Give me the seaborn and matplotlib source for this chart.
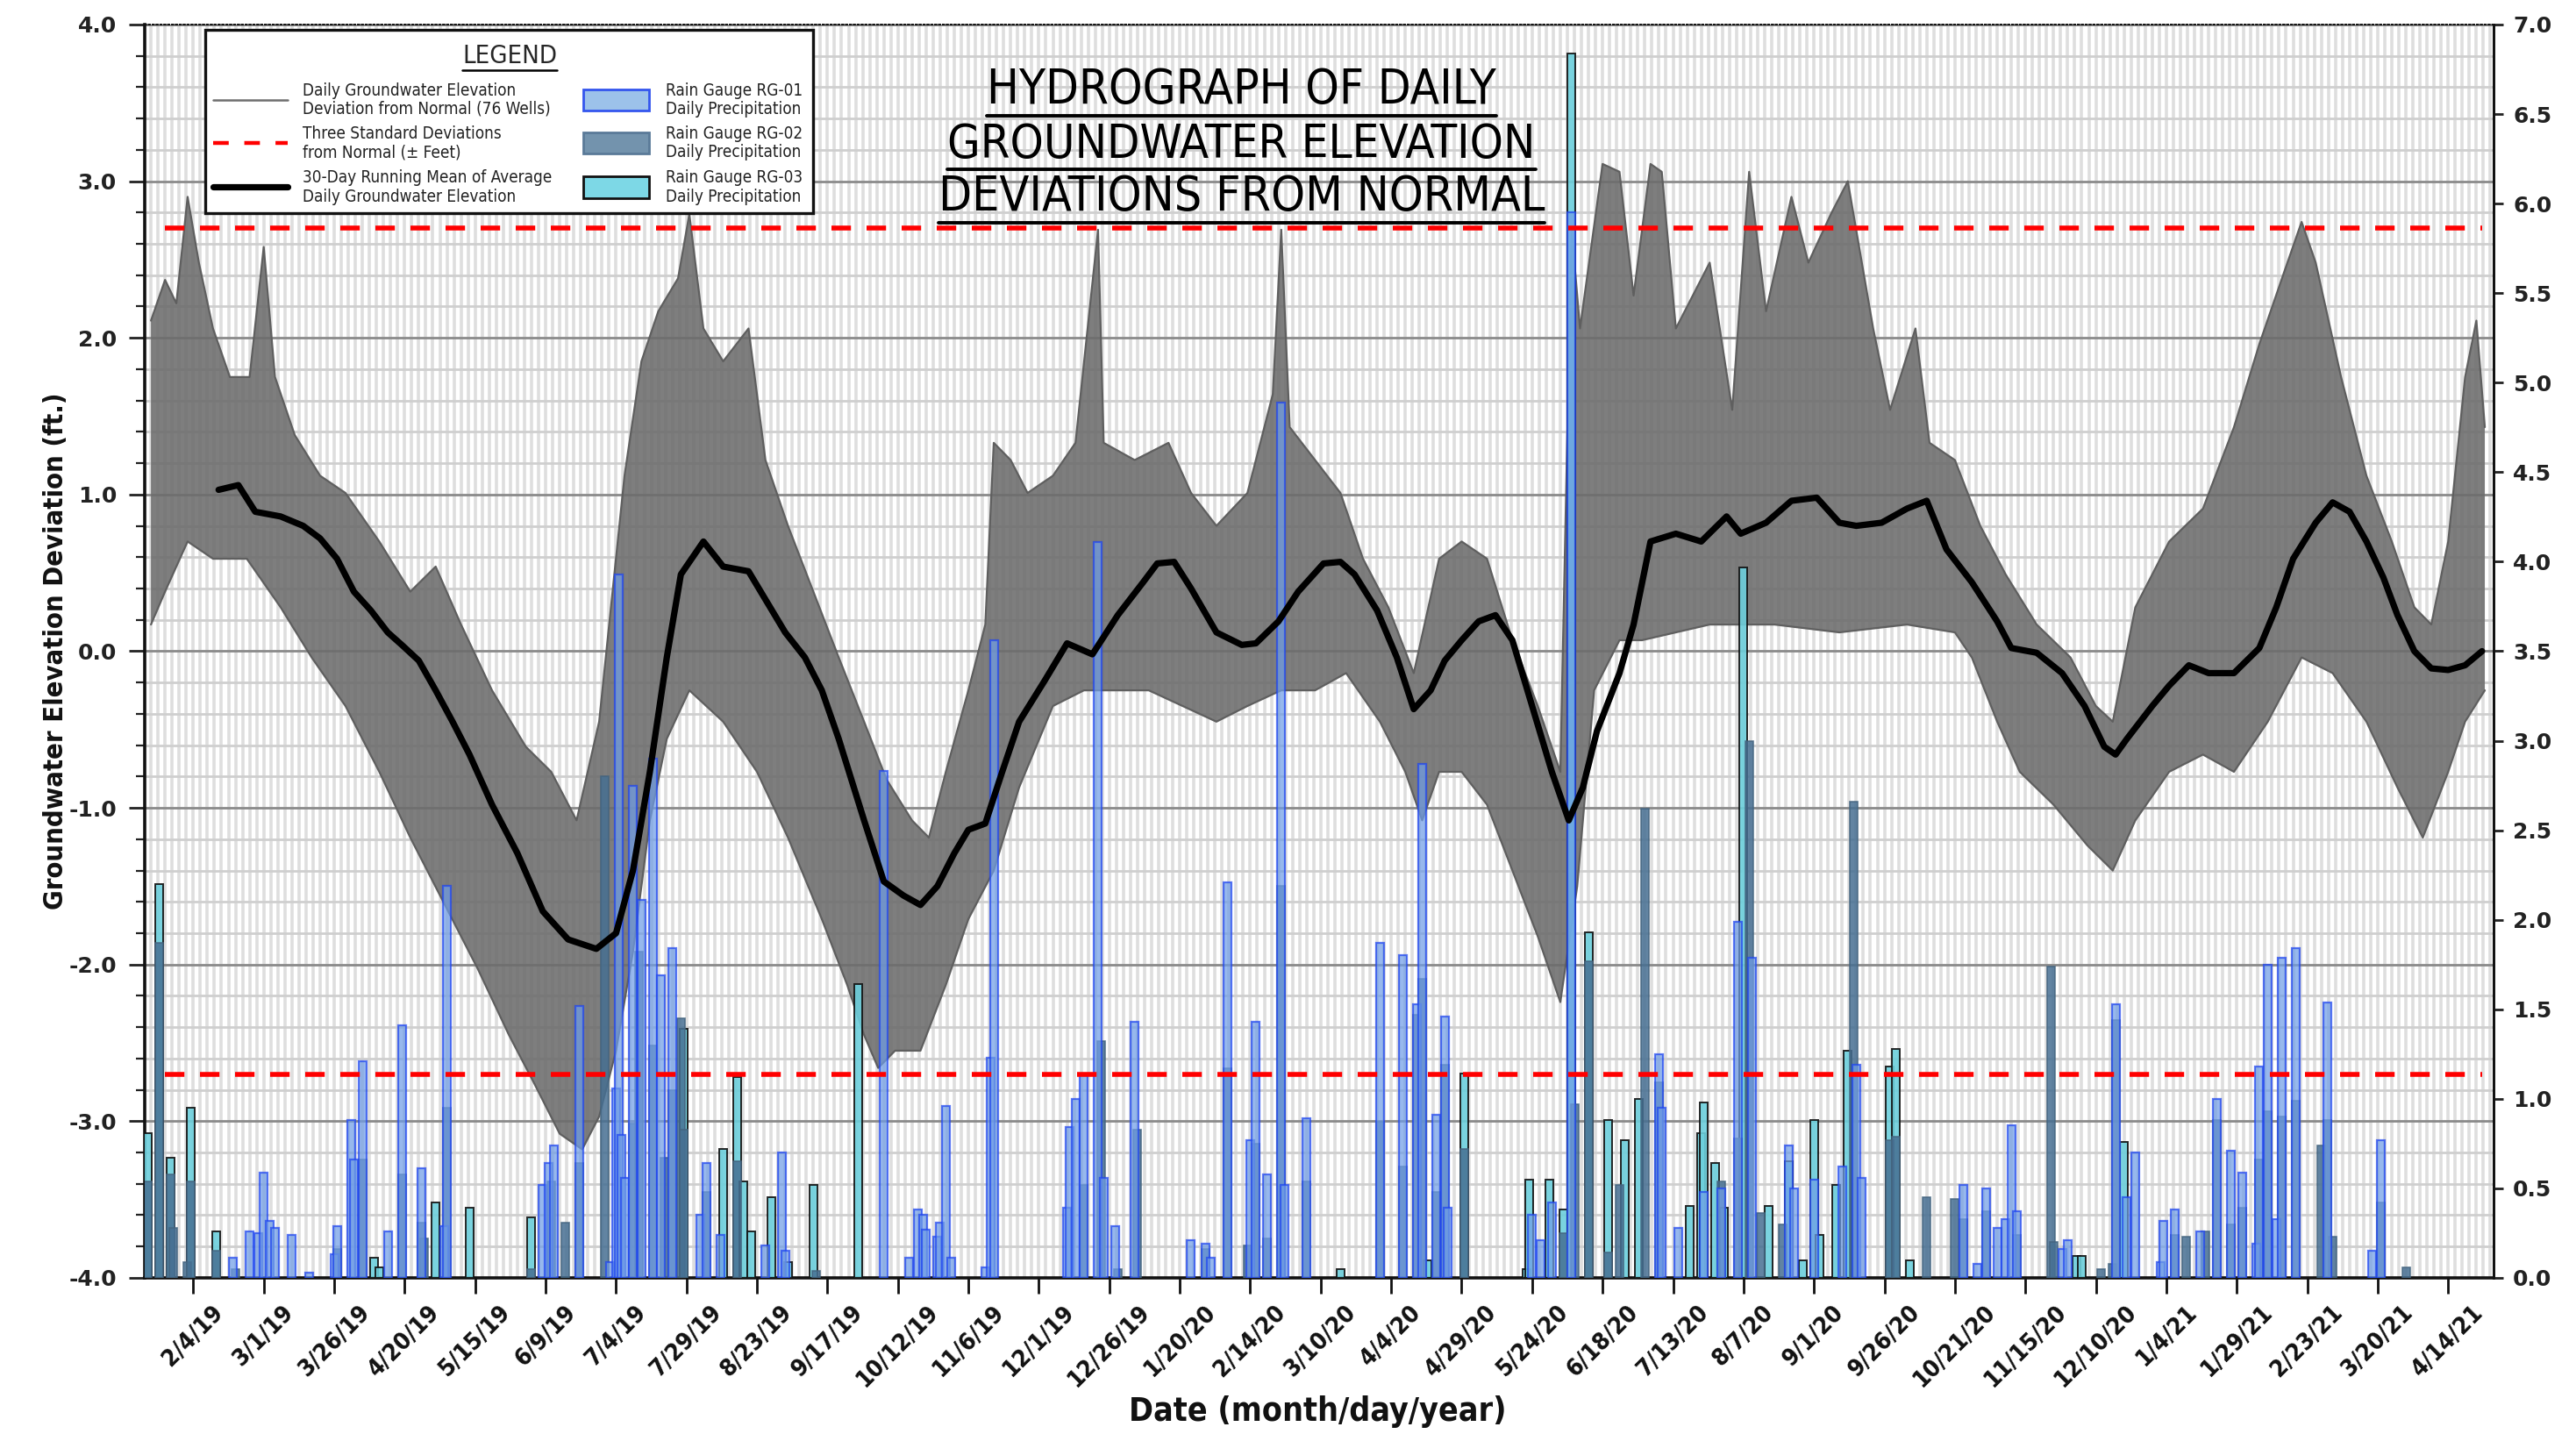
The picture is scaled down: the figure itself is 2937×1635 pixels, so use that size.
import numpy as np
import pandas as pd
import matplotlib
matplotlib.use("Agg")
import matplotlib.pyplot as plt
from matplotlib import font_manager as fm
from matplotlib.ticker import MultipleLocator, FixedLocator, FormatStrFormatter
from matplotlib.lines import Line2D
from matplotlib.patches import Rectangle
import seaborn as sns

sns.set_theme(style="white")
plt.rcParams["font.family"] = ["Liberation Sans", "DejaVu Sans"]

# x positions are days after this date
BASE_DATE = "2019-02-04"

tick_labels = ["2/4/19", "3/1/19", "3/26/19", "4/20/19", "5/15/19", "6/9/19", "7/4/19",
               "7/29/19", "8/23/19", "9/17/19", "10/12/19", "11/6/19", "12/1/19", "12/26/19",
               "1/20/20", "2/14/20", "3/10/20", "4/4/20", "4/29/20", "5/24/20", "6/18/20",
               "7/13/20", "8/7/20", "9/1/20", "9/26/20", "10/21/20", "11/15/20", "12/10/20",
               "1/4/21", "1/29/21", "2/23/21", "3/20/21", "4/14/21"]

# 30-day running mean of average daily groundwater elevation (ft)
mean_day = [9, 16, 22, 31, 39, 45, 51, 57, 63, 69, 74, 80, 86, 92, 98, 106, 115, 124, 133,
            143, 150, 156, 162, 168, 173, 181, 188, 197, 203, 210, 217, 223, 229, 238, 245,
            252, 258, 264, 270, 275, 281, 287, 293, 302, 310, 319, 328, 337, 342, 348, 354,
            363, 372, 377, 385, 392, 401, 407, 412, 420, 427, 433, 439, 444, 450, 456, 462,
            468, 475, 482, 488, 493, 498, 506, 511, 517, 526, 535, 544, 549, 558, 567, 576,
            584, 590, 599, 608, 615, 622, 631, 640, 645, 654, 663, 671, 678, 682, 686, 695,
            701, 708, 715, 724, 733, 739, 745, 753, 759, 765, 771, 777, 782, 788, 794, 800,
            806, 812]
mean_ft = [1.03, 1.06, 0.89, 0.86, 0.80, 0.72, 0.59, 0.38, 0.26, 0.12, 0.04, -0.06, -0.25,
           -0.45, -0.66, -0.98, -1.29, -1.66, -1.84, -1.90, -1.80, -1.40, -0.77, -0.04, 0.49,
           0.70, 0.54, 0.51, 0.33, 0.12, -0.04, -0.25, -0.56, -1.08, -1.47, -1.56, -1.62,
           -1.50, -1.29, -1.14, -1.10, -0.77, -0.45, -0.19, 0.05, -0.02, 0.23, 0.44, 0.56,
           0.57, 0.40, 0.12, 0.04, 0.05, 0.19, 0.38, 0.56, 0.57, 0.49, 0.26, -0.04, -0.37,
           -0.25, -0.06, 0.07, 0.19, 0.23, 0.07, -0.35, -0.77, -1.08, -0.87, -0.51, -0.14,
           0.17, 0.70, 0.75, 0.70, 0.86, 0.75, 0.82, 0.96, 0.98, 0.82, 0.80, 0.82, 0.91, 0.96,
           0.65, 0.44, 0.19, 0.02, -0.01, -0.14, -0.35, -0.61, -0.66, -0.56, -0.35, -0.22,
           -0.09, -0.14, -0.14, 0.02, 0.28, 0.59, 0.82, 0.95, 0.89, 0.70, 0.47, 0.23, 0.00,
           -0.11, -0.12, -0.09, 0.00]

# upper / lower edge of the 76 daily well traces (ft)
well_top_day = [-15, -10, -6, -2, 2, 7, 13, 20, 25, 29, 36, 45, 54, 66, 77, 86, 95, 106, 118,
                127, 136, 144, 153, 159, 165, 172, 176, 181, 188, 197, 203, 211, 220, 229, 238,
                246, 255, 261, 267, 275, 281, 284, 290, 296, 305, 313, 321, 323, 334, 346, 354,
                363, 374, 383, 386, 389, 398, 407, 415, 424, 433, 442, 450, 459, 468, 477, 485,
                489, 492, 500, 506, 511, 517, 521, 526, 538, 546, 552, 558, 567, 573, 581, 587,
                596, 602, 611, 616, 625, 634, 643, 654, 666, 675, 681, 689, 701, 713, 724, 733,
                742, 748, 753, 762, 771, 780, 788, 794, 800, 806, 810, 813]
well_top_ft = [2.11, 2.37, 2.22, 2.90, 2.48, 2.06, 1.75, 1.75, 2.58, 1.75, 1.38, 1.12, 1.01,
               0.70, 0.38, 0.54, 0.17, -0.25, -0.61, -0.77, -1.08, -0.45, 1.12, 1.85, 2.17,
               2.38, 2.79, 2.06, 1.85, 2.06, 1.22, 0.80, 0.38, -0.04, -0.45, -0.82, -1.08,
               -1.19, -0.77, -0.25, 0.17, 1.33, 1.22, 1.01, 1.12, 1.33, 2.69, 1.33, 1.22, 1.33,
               1.01, 0.80, 1.01, 1.64, 2.69, 1.43, 1.22, 1.01, 0.59, 0.28, -0.14, 0.59, 0.70,
               0.59, 0.07, -0.35, -0.77, 2.69, 2.06, 3.11, 3.06, 2.27, 3.11, 3.06, 2.06, 2.48,
               1.54, 3.06, 2.17, 2.90, 2.48, 2.79, 3.00, 2.06, 1.54, 2.06, 1.33, 1.22, 0.80,
               0.49, 0.17, -0.04, -0.35, -0.45, 0.28, 0.70, 0.91, 1.43, 1.96, 2.43, 2.74, 2.48,
               1.75, 1.12, 0.70, 0.28, 0.17, 0.70, 1.75, 2.11, 1.43]
well_low_day = [-15, -10, -2, 7, 19, 31, 42, 54, 66, 77, 89, 101, 112, 121, 130, 138, 144, 150,
                156, 162, 168, 176, 188, 200, 211, 223, 232, 238, 243, 249, 258, 267, 275, 284,
                293, 305, 316, 328, 339, 351, 363, 374, 386, 398, 409, 421, 430, 436, 442, 450,
                459, 468, 477, 485, 491, 497, 506, 514, 538, 561, 584, 608, 625, 631, 640, 648,
                660, 672, 681, 689, 701, 713, 724, 736, 748, 759, 771, 782, 791, 800, 806, 813]
well_low_ft = [0.17, 0.38, 0.70, 0.59, 0.59, 0.28, -0.04, -0.35, -0.77, -1.19, -1.61, -2.03,
               -2.45, -2.76, -3.08, -3.18, -2.97, -2.55, -1.92, -1.08, -0.56, -0.25, -0.45,
               -0.77, -1.19, -1.71, -2.13, -2.45, -2.66, -2.55, -2.55, -2.13, -1.71, -1.40,
               -0.87, -0.35, -0.25, -0.25, -0.25, -0.35, -0.45, -0.35, -0.25, -0.25, -0.14,
               -0.45, -0.77, -1.08, -0.77, -0.77, -0.98, -1.40, -1.82, -2.24, -1.50, -0.25,
               0.07, 0.07, 0.17, 0.17, 0.12, 0.17, 0.12, -0.04, -0.45, -0.77, -0.98, -1.24,
               -1.40, -1.08, -0.77, -0.66, -0.77, -0.45, -0.04, -0.14, -0.45, -0.87, -1.19,
               -0.77, -0.45, -0.25]

# three standard deviations from normal (+/- ft)
sigma_ft = 2.7
sigma_day = [-10, 812]

# daily precipitation (in)
rg01_day = [14, 20, 23, 25, 27, 29, 35, 41, 50, 51, 56, 57, 60, 69, 74, 81, 89, 90, 124, 126,
            128, 137, 148, 150, 151, 152, 153, 156, 159, 163, 166, 170, 180, 182, 187, 203,
            209, 210, 245, 254, 257, 259, 260, 264, 265, 267, 269, 281, 283, 284, 310, 311,
            313, 316, 321, 323, 327, 334, 354, 359, 361, 367, 375, 377, 381, 386, 387, 395,
            421, 429, 434, 436, 441, 444, 445, 475, 478, 482, 489, 520, 521, 527, 536, 542,
            548, 553, 566, 568, 575, 585, 590, 592, 628, 633, 636, 640, 643, 645, 647, 663,
            665, 682, 686, 689, 698, 699, 703, 712, 718, 723, 727, 732, 733, 736, 739, 741,
            746, 757, 773, 776]
rg01_in = [0.11, 0.26, 0.25, 0.59, 0.32, 0.28, 0.24, 0.03, 0.13, 0.29, 0.88, 0.66, 1.21,
           0.26, 1.41, 0.61, 0.29, 2.19, 0.52, 0.64, 0.74, 1.52, 0.09, 1.06, 3.93, 0.80, 0.56,
           2.75, 2.11, 2.90, 1.69, 1.84, 0.35, 0.64, 0.24, 0.18, 0.70, 0.15, 2.83, 0.11, 0.38,
           0.35, 0.27, 0.23, 0.31, 0.96, 0.11, 0.06, 1.23, 3.56, 0.39, 0.84, 1.00, 1.13, 4.11,
           0.56, 0.29, 1.43, 0.21, 0.19, 0.11, 2.21, 0.77, 1.43, 0.58, 4.89, 0.52, 0.89, 1.87,
           1.80, 1.53, 2.87, 0.91, 1.46, 0.39, 0.35, 0.21, 0.42, 5.95, 1.25, 0.95, 0.28, 0.48,
           0.50, 1.99, 1.79, 0.74, 0.50, 0.55, 0.62, 1.19, 0.56, 0.52, 0.08, 0.50, 0.28, 0.33,
           0.85, 0.37, 0.16, 0.21, 1.53, 0.45, 0.70, 0.09, 0.32, 0.38, 0.26, 1.00, 0.71, 0.59,
           0.19, 1.18, 1.75, 0.33, 1.79, 1.84, 1.54, 0.15, 0.77]

rg02_day = [-16, -12, -8, -7, -2, -1, 8, 15, 51, 60, 74, 81, 82, 90, 120, 127, 132, 137, 146,
            156, 158, 163, 167, 170, 173, 174, 182, 193, 221, 316, 322, 328, 335, 359, 367,
            374, 377, 381, 386, 395, 421, 429, 434, 436, 441, 444, 451, 486, 490, 495, 502,
            506, 515, 520, 542, 548, 552, 556, 564, 589, 602, 604, 615, 625, 628, 636, 647,
            659, 660, 677, 681, 682, 703, 707, 714, 718, 723, 727, 733, 736, 741, 746, 755,
            757, 759, 776, 785]
rg02_in = [0.54, 1.87, 0.58, 0.28, 0.09, 0.54, 0.15, 0.05, 0.16, 0.66, 0.58, 0.31, 0.22, 0.95,
           0.05, 0.54, 0.31, 0.64, 2.80, 0.86, 1.82, 1.30, 0.67, 1.05, 1.45, 0.83, 0.48, 0.65,
           0.04, 0.52, 1.32, 0.05, 0.83, 0.16, 1.17, 0.18, 0.75, 0.22, 2.19, 0.54, 0.87, 0.62,
           1.47, 1.67, 0.48, 1.19, 0.72, 0.25, 0.97, 1.77, 0.14, 0.52, 2.62, 1.09, 0.54, 0.78,
           3.00, 0.36, 0.30, 2.66, 0.77, 0.79, 0.45, 0.44, 0.33, 0.37, 0.24, 1.74, 0.20, 0.05,
           0.08, 1.44, 0.24, 0.23, 0.26, 0.88, 0.30, 0.39, 0.66, 0.93, 0.90, 0.99, 0.74, 0.88,
           0.23, 0.42, 0.06]

rg03_day = [-16, -12, -8, -1, 8, 64, 66, 86, 98, 120, 174, 188, 193, 195, 198, 205, 211, 220,
            236, 407, 438, 451, 473, 474, 481, 486, 489, 495, 502, 508, 513, 531, 535, 536,
            540, 543, 550, 559, 566, 571, 575, 577, 583, 587, 602, 604, 609, 668, 670, 685]
rg03_in = [0.81, 2.20, 0.67, 0.95, 0.26, 0.11, 0.06, 0.42, 0.39, 0.34, 1.39, 0.72, 1.12, 0.54,
           0.26, 0.45, 0.09, 0.52, 1.64, 0.05, 0.10, 1.14, 0.05, 0.55, 0.55, 0.38, 6.84, 1.93,
           0.88, 0.77, 1.00, 0.40, 0.81, 0.98, 0.64, 0.39, 3.97, 0.40, 0.65, 0.10, 0.88, 0.24,
           0.52, 1.27, 1.18, 1.28, 0.10, 0.12, 0.12, 0.76]


def narrow_font(bold):
    # look for an installed narrow / condensed face, else fall back to Liberation Sans
    best = None
    for f in fm.fontManager.ttflist:
        tag = (f.name + " " + f.fname).lower()
        if not ("narrow" in tag or "condensed" in tag):
            continue
        if "italic" in tag or "oblique" in tag or "mono" in tag:
            continue
        is_bold = (f.weight in ("bold", 700) or "bold" in tag)
        if is_bold != bold:
            continue
        score = 0 if "liberation" in tag else (1 if "dejavu" in tag else 2)
        if best is None or score < best[0]:
            best = (score, f.fname)
    if best:
        return best[1]
    return None


NARROW_REG = narrow_font(False)
NARROW_BOLD = narrow_font(True)


def fp(size, bold=False):
    path = NARROW_BOLD if bold else NARROW_REG
    if path:
        return fm.FontProperties(fname=path, size=size)
    return fm.FontProperties(family=["Liberation Sans", "DejaVu Sans"], size=size,
                             weight="bold" if bold else "normal")


base = pd.Timestamp(BASE_DATE)
tick_pos = [(pd.to_datetime(t, format="%m/%d/%y") - base).days for t in tick_labels]

fig = plt.figure(figsize=(2937 / 200, 1635 / 200), dpi=200)
ax = fig.add_axes([0.0562, 0.1089, 0.9118, 0.874])
ax2 = ax.twinx()
ax3 = ax.twinx()

# --- wells (left axis)
poly_x = np.concatenate([well_top_day, well_low_day[::-1]])
poly_y = np.concatenate([well_top_ft, well_low_ft[::-1]])
ax.fill(poly_x, poly_y, color="#6c6c6c", alpha=0.88, lw=0, zorder=2)
ax.plot(well_top_day, well_top_ft, color="#5f5f5f", lw=0.8, zorder=2)
ax.plot(well_low_day, well_low_ft, color="#5f5f5f", lw=0.8, zorder=2)

# --- precipitation (right axis)
bw = 2.8
ax2.bar(rg03_day, rg03_in, width=bw, color="#6ccfdc", alpha=0.9, edgecolor="#111111", lw=0.7, zorder=3)
ax2.bar(rg02_day, rg02_in, width=bw, color="#466f92", alpha=0.85, edgecolor="#44647f", lw=0.6, zorder=4)
ax2.bar(rg01_day, rg01_in, width=bw, color="#6f9de6", alpha=0.72, edgecolor="#1f45f0", lw=0.8, zorder=5)

# --- overlay lines (left scale)
ax3.plot(sigma_day, [sigma_ft, sigma_ft], color="#ff0000", lw=2.0, dashes=(4, 3.2), zorder=6)
ax3.plot(sigma_day, [-sigma_ft, -sigma_ft], color="#ff0000", lw=2.0, dashes=(4, 3.2), zorder=6)
sns.lineplot(x=mean_day, y=mean_ft, ax=ax3, color="black", lw=2.6, estimator=None,
             sort=False, legend=False, zorder=7)

xlim = (-17.2, 816.1)
for a in (ax, ax2, ax3):
    a.set_xlim(*xlim)
ax.set_ylim(-4, 4)
ax3.set_ylim(-4, 4)
ax2.set_ylim(0, 7)
ax3.set_axis_off()

# grid + ticks
ax.set_axisbelow(True)
ax.xaxis.set_major_locator(FixedLocator(tick_pos))
ax.xaxis.set_minor_locator(FixedLocator(np.arange(-15, 816, 2.5)))
ax.set_xticklabels(tick_labels, rotation=45, ha="center")
for lab in ax.get_xticklabels():
    lab.set_fontproperties(fp(9.8, bold=True))
ax.yaxis.set_major_locator(MultipleLocator(1.0))
ax.yaxis.set_minor_locator(MultipleLocator(0.2))
ax.yaxis.set_major_formatter(FormatStrFormatter("%.1f"))
for lab in ax.get_yticklabels():
    lab.set_family(["DejaVu Sans"])
    lab.set_fontweight("bold")
ax.grid(which="major", axis="y", color="#8a8a8a", lw=1.0)
ax.grid(which="minor", axis="y", color="#cfcfcf", lw=1.0)
ax.grid(which="both", axis="x", color="#dedede", lw=1.3)
ax.tick_params(axis="y", which="major", length=6.5, width=1.0, labelsize=9, pad=5, colors="#222222")
ax.tick_params(axis="y", which="minor", length=3.5, width=0.8, color="#222222")
ax.tick_params(axis="x", which="major", length=6.5, width=1.0, pad=3, colors="#111111")
ax.tick_params(axis="x", which="minor", length=3.0, width=0.8, color="#111111")
ax.tick_params(axis="both", direction="out", left=True, bottom=True)

ax2.yaxis.set_major_locator(MultipleLocator(0.5))
ax2.yaxis.set_major_formatter(FormatStrFormatter("%.1f"))
ax2.tick_params(axis="y", which="major", direction="out", length=4, width=1.0, labelsize=9,
                pad=4, colors="#222222")
for lab in ax2.get_yticklabels():
    lab.set_family(["DejaVu Sans"])
    lab.set_fontweight("bold")

for a in (ax, ax2):
    a.spines["left"].set_linewidth(1.3)
    a.spines["bottom"].set_linewidth(1.3)
    a.spines["right"].set_linewidth(1.0)
    a.spines["top"].set_linewidth(0.6)
    a.spines["top"].set_linestyle(":")
    for s in a.spines.values():
        s.set_color("#111111")
ax2.spines["left"].set_visible(False)
ax2.spines["bottom"].set_visible(False)

ylab = ax.set_ylabel("Groundwater Elevation Deviation (ft.)", fontproperties=fp(13, bold=True),
                     color="#111111")
ax.yaxis.set_label_coords(-0.0325, 0.5)
xlab = ax.set_xlabel("Date (month/day/year)", fontproperties=fp(14, bold=True), color="#111111")
ax.xaxis.set_label_coords(0.4993, -0.094)

# --- title
title_lines = ["HYDROGRAPH OF DAILY", "GROUNDWATER ELEVATION", "DEVIATIONS FROM NORMAL"]
title_y = [0.937, 0.8937, 0.8517]
title_txt = [ax3.text(0.467, yy, t, transform=ax3.transAxes, ha="center", va="baseline",
                      fontproperties=fp(22), color="black", zorder=9)
             for t, yy in zip(title_lines, title_y)]

# --- legend box
T = ax3.transAxes
ax3.add_patch(Rectangle((0.0258, 0.8495), 0.2587, 0.1463, transform=T, facecolor="white",
                        edgecolor="#111111", lw=1.2, zorder=10))
leg_title = ax3.text(0.1553, 0.9748, "LEGEND", transform=T, ha="center", va="center",
                     fontproperties=fp(9.5), zorder=11)
row_y = [0.9400, 0.9055, 0.8702]
left_lab = ["Daily Groundwater Elevation\nDeviation from Normal (76 Wells)",
            "Three Standard Deviations\nfrom Normal (\u00b1 Feet)",
            "30-Day Running Mean of Average\nDaily Groundwater Elevation"]
right_lab = ["Rain Gauge RG-01\nDaily Precipitation", "Rain Gauge RG-02\nDaily Precipitation",
             "Rain Gauge RG-03\nDaily Precipitation"]
ax3.add_line(Line2D([0.0291, 0.0609], [row_y[0]] * 2, transform=T, color="#6e6e6e", lw=0.9, zorder=11))
ax3.add_line(Line2D([0.0291, 0.0609], [row_y[1]] * 2, transform=T, color="#ff0000", lw=1.6,
                    dashes=(4, 4), zorder=11))
ax3.add_line(Line2D([0.0291, 0.0609], [row_y[2]] * 2, transform=T, color="black", lw=2.6,
                    solid_capstyle="round", zorder=11))
patch_style = [("#9cc2ea", "#3355ee"), ("#7393ad", "#5a7a98"), ("#7dd8e6", "#111111")]
leg_txt = []
for yy, lab, lab2, (fc, ec) in zip(row_y, left_lab, right_lab, patch_style):
    leg_txt.append(ax3.text(0.0672, yy, lab, transform=T, ha="left", va="center",
                            fontproperties=fp(7.5), linespacing=1.15, color="#222222", zorder=11))
    ax3.add_patch(Rectangle((0.1867, yy - 0.0085), 0.028, 0.017, transform=T, facecolor=fc,
                            edgecolor=ec, lw=1.0, zorder=11))
    leg_txt.append(ax3.text(0.2218, yy, lab2, transform=T, ha="left", va="center",
                            fontproperties=fp(7.5), linespacing=1.15, color="#222222", zorder=11))

# fit text sizes to the space they take in the chart
fig.canvas.draw()
r = fig.canvas.get_renderer()


def fit(txt, target_px, max_size, vertical=False):
    bb = txt.get_window_extent(r)
    cur = bb.height if vertical else bb.width
    txt.set_fontsize(min(txt.get_fontsize() * target_px / cur, max_size))


for t, w in zip(title_txt, [580, 672, 692]):
    fit(t, w, 26)
fit(leg_title, 108, 11)
for t in leg_txt[0::2]:
    fit(t, 287, 8)
sz = min(t.get_fontsize() for t in leg_txt[0::2])
for t in leg_txt:
    t.set_fontsize(sz)
fit(ylab, 590, 14, vertical=True)
fit(xlab, 430, 15)
fig.canvas.draw()

# underlines under title lines and legend heading
inv = fig.transFigure.inverted()
for txt, lw in [(t, 1.4) for t in title_txt] + [(leg_title, 0.9)]:
    bb = txt.get_window_extent(r).transformed(inv)
    yline = bb.y0 - 0.0015
    fig.add_artist(Line2D([bb.x0, bb.x1], [yline, yline], transform=fig.transFigure,
                          color="black", lw=lw))

fig.savefig("out.png", dpi=200)
